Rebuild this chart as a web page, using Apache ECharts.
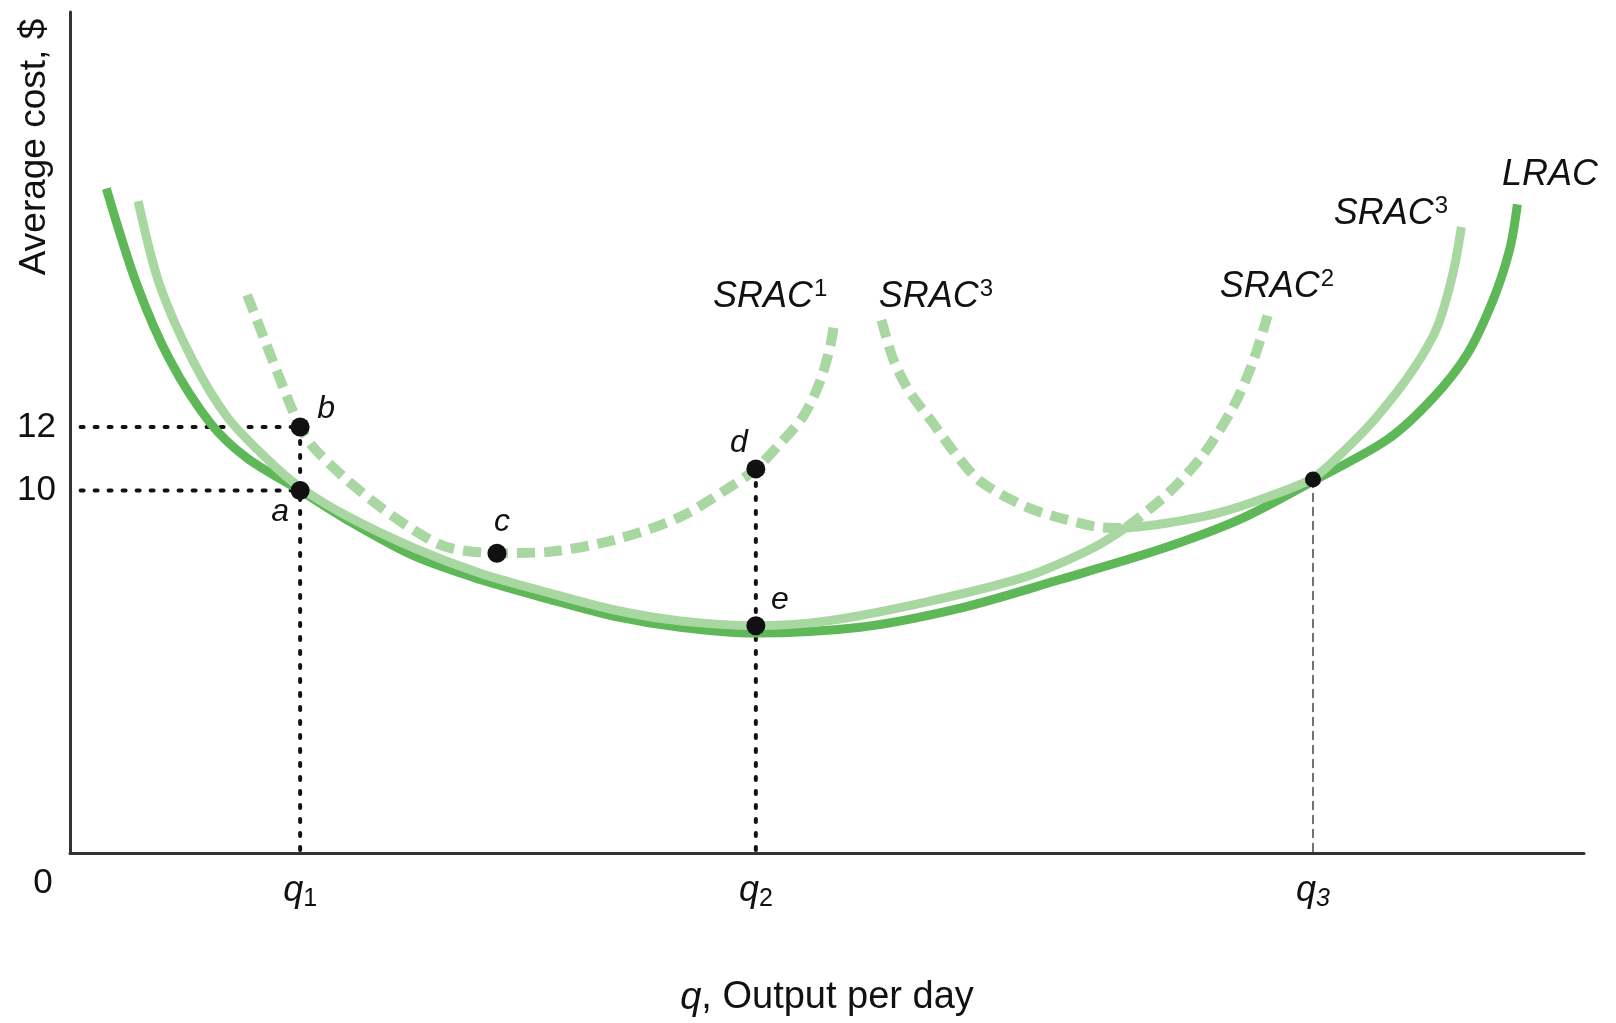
<!DOCTYPE html>
<html><head><meta charset="utf-8">
<script src="https://cdn.jsdelivr.net/npm/echarts@6/dist/echarts.min.js"></script>
<style>html,body{margin:0;padding:0;background:#fff;}#c{width:1616px;height:1023px;}</style>
</head><body><div id="c"></div>
<script>
// Long-run average cost envelope
const lrac = [[2.4,19.5],[4.4,16.5],[6.6,14.1],[9.3,12.1],[11.7,11.02],[15.2,10.0],[18.3,9.08],[22.7,7.95],[27.1,7.2],[31.5,6.6],[35.9,6.05],[40.3,5.7],[45.1,5.52],[52.2,5.7],[58.8,6.3],[65.4,7.2],[72.0,8.15],[77.3,9.1],[82.1,10.3],[87.0,11.6],[90.0,12.9],[92.3,14.3],[94.0,16.0],[95.1,17.6],[95.6,19.0]];
// SRAC1 (dashed)
const srac1 = [[11.7,16.15],[14.5,12.75],[15.2,12.0],[16.05,11.37],[18.3,10.33],[20.5,9.48],[22.7,8.76],[24.9,8.22],[28.2,8.03],[31.5,8.07],[35.9,8.44],[40.3,9.17],[43.6,10.11],[45.3,10.68],[46.7,11.37],[48.4,12.31],[49.5,13.38],[50.2,14.51],[50.5,15.36]];
// SRAC2 solid part and dashed part
const srac2Solid = [[4.5,19.1],[5.9,16.5],[8.1,14.1],[10.4,12.3],[13.0,11.0],[15.2,10.1],[18.3,9.2],[22.7,8.2],[27.1,7.4],[31.5,6.8],[35.9,6.25],[40.3,5.9],[45.3,5.75],[50.0,5.9],[56.6,6.5],[63.2,7.3],[67.6,8.2],[69.8,8.85]];
const srac2Dash = [[69.8,8.85],[72.5,9.9],[74.8,11.1],[76.8,12.6],[78.1,14.0],[79.1,15.5]];
// SRAC3 dashed part and solid part
const srac3Dash = [[53.6,15.36],[54.4,14.1],[55.5,13.07],[57.0,12.12],[58.3,11.27],[60.1,10.3],[63.2,9.48],[65.9,9.07],[68.0,8.85],[69.8,8.82]];
const srac3Solid = [[69.8,8.82],[72.5,8.98],[75.8,9.29],[79.1,9.8],[82.1,10.39],[84.2,11.27],[86.3,12.31],[88.7,13.79],[90.3,15.14],[91.35,16.84],[91.9,18.29]];
// Marked points
const points = [[15.2,10.0,'a'],[15.2,12.0,'b'],[28.2,8.03,'c'],[45.3,10.68,'d'],[45.3,5.75,'e']];
const pointQ3 = [[82.1,10.35]];
// Axis ticks
const qTickValues = [15.2,45.3,82.1];
const qTickSubs = ['1','2','3'];
const costTicks = [10,12];
const yMin = -1.4, yMax = 25.05;
// Curve labels
const curveLabels = [[46.24,16.08,'SRAC','1'],[57.2,16.08,'SRAC','3'],[79.72,16.4,'SRAC','2'],[87.25,18.69,'SRAC','3'],[97.75,19.92,'LRAC','']];

const DARK = '#5fb857', LIGHT = '#a9d7a2', INK = '#111';
const FONT = 'Liberation Sans';
const labelOffsets = {a:[-20,22], b:[26,-18], c:[5,-31], d:[-17,-26], e:[24,-26]};

const chart = echarts.init(document.getElementById('c'));
const curve = (data, color, dashed, z) => ({
  type:'line', data, smooth:0.3, symbol:'none', silent:true, z,
  lineStyle:{color, width: dashed?10:9, type: dashed?[18,9]:'solid', cap:'butt'}
});
const guide = (data, type, width, color) => ({
  type:'line', data, symbol:'none', silent:true, z:1,
  lineStyle:{color, width, type, cap:'round'}
});
chart.setOption({
  animation:false,
  grid:{left:70, right:32, top:12, bottom:170},
  xAxis:{type:'value', min:0, max:100,
    axisLine:{onZero:false, lineStyle:{color:'#333', width:3}}, axisTick:{show:false}, splitLine:{show:false},
    axisLabel:{customValues:qTickValues, margin:16, color:INK,
      formatter:(v)=>{const i=qTickValues.indexOf(v); return '{q|q}{'+(i===2?'si':'s')+'|'+qTickSubs[i]+'}';},
      rich:{q:{fontSize:36, fontStyle:'italic', fontFamily:FONT, color:INK},
            s:{fontSize:25, fontFamily:FONT, color:INK, padding:[18,0,0,0]},
            si:{fontSize:25, fontStyle:'italic', fontFamily:FONT, color:INK, padding:[18,0,0,0]}}},
    name:'{i|q}, Output per day', nameLocation:'middle', nameGap:126,
    nameTextStyle:{fontSize:38, fontFamily:FONT, color:INK, rich:{i:{fontSize:38, fontStyle:'italic', fontFamily:FONT, color:INK}}}
  },
  yAxis:{type:'value', min:yMin, max:yMax,
    axisLine:{show:true, onZero:false, lineStyle:{color:'#333', width:3}}, axisTick:{show:false}, splitLine:{show:false},
    axisLabel:{customValues:costTicks, margin:14, fontSize:35, fontFamily:FONT, color:INK}
  },
  graphic:[
    {type:'text', x:35, y:147, rotation:Math.PI/2, style:{text:'Average cost, $', fontSize:37, fontFamily:FONT, fill:INK, align:'center', verticalAlign:'middle'}},
    {type:'text', x:43, y:883, style:{text:'0', fontSize:35, fontFamily:FONT, fill:INK, align:'center', verticalAlign:'middle'}}
  ],
  series:[
    guide([[0.7,12],[15.2,12]], [3,11], 4, INK),
    guide([[0.7,10],[15.2,10]], [3,11], 4, INK),
    guide([[15.2,12],[15.2,yMin]], [3,11], 4, INK),
    guide([[45.3,10.68],[45.3,yMin]], [3,11], 4, INK),
    guide([[82.1,10.35],[82.1,yMin]], [8,6], 1.5, '#444'),
    curve(lrac, DARK, false, 2),
    curve(srac2Solid, LIGHT, false, 3),
    curve(srac2Dash, LIGHT, true, 3),
    curve(srac3Dash, LIGHT, true, 3),
    curve(srac3Solid, LIGHT, false, 3),
    curve(srac1, LIGHT, true, 3),
    {type:'scatter', data:points, symbolSize:19, z:5, silent:true, itemStyle:{color:'#111', opacity:1},
      label:{show:true, position:'inside', fontSize:32, fontStyle:'italic', fontFamily:FONT, color:INK,
        formatter:(p)=>p.data[2]},
      labelLayout:(p)=>{const d=points[p.dataIndex]; const o=labelOffsets[d[2]]; return {dx:o[0], dy:o[1]};}
    },
    {type:'scatter', data:pointQ3, symbolSize:16, z:5, silent:true, itemStyle:{color:'#111', opacity:1}},
    {type:'scatter', data:curveLabels, symbolSize:1, z:6, silent:true, itemStyle:{color:'rgba(0,0,0,0)', opacity:1},
      label:{show:true, position:'inside', color:INK,
        formatter:(p)=> '{m|'+p.data[2]+'}' + (p.data[3] ? '{sup|'+p.data[3]+'}' : ''),
        rich:{m:{fontSize:36, fontStyle:'italic', fontFamily:FONT, color:INK},
              sup:{fontSize:24, fontFamily:FONT, color:INK, padding:[0,0,16,1]}}}
    }
  ]
});
</script></body></html>
